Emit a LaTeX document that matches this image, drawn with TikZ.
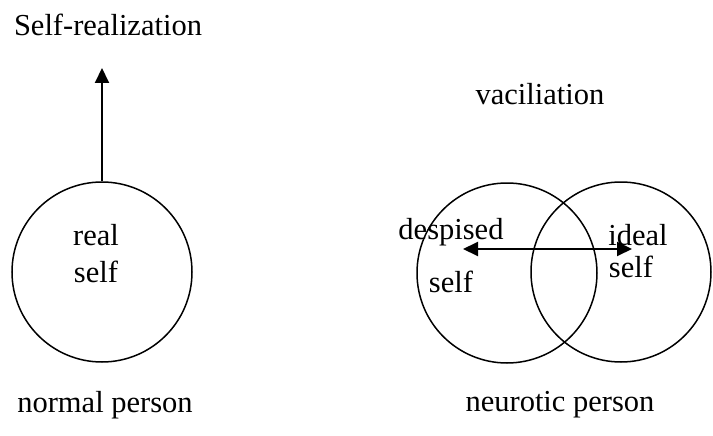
\documentclass[tikz,border=0pt]{standalone}
\usepackage{fontspec}
\setmainfont{Liberation Serif}
\usetikzlibrary{arrows.meta}
\begin{document}
\begin{tikzpicture}[x=1pt,y=-1pt,
  lbl/.style={inner sep=0pt,font=\fontsize{30.5}{36}\selectfont},
  selfcircle/.style={circle,draw,line width=1.5pt,inner sep=0pt,minimum size=180pt},
  arr/.style={line width=2pt,-{Triangle[length=15pt,width=14pt]}},
  darr/.style={line width=2pt,{Triangle[length=15pt,width=14pt]}-{Triangle[length=15pt,width=14pt]}}]
\useasboundingbox (0,0) rectangle (713,436);
% left: normal person
\node[selfcircle] (real) at (102,272) {};
\node[lbl] (t1) at (108,25) {Self-realization};
\coordinate (tip) at (102,68);
\draw[arr] (real.north) -- (tip);
\node[lbl] (r1) at (96,235) {real};
\node[lbl] (r2) at (96,272) {self};
\node[lbl] (np) at (105,405) {normal person};
% right: neurotic person
\node[selfcircle] (desp) at (507,273) {};
\node[selfcircle] (ideal) at (621,272) {};
\node[lbl] (vac) at (540,94) {vaciliation};
\node[lbl] (d1) at (451,232) {despised};
\node[lbl] (d2) at (451,282) {self};
\node[lbl] (i1) at (638,235) {ideal};
\node[lbl] (i2) at (631,267) {self};
\coordinate (dl) at (463,249);
\coordinate (dr) at (632,249);
\draw[darr] (dl) -- (dr);
\node[lbl] (nrp) at (560,405) {neurotic person};
\end{tikzpicture}
\end{document}
